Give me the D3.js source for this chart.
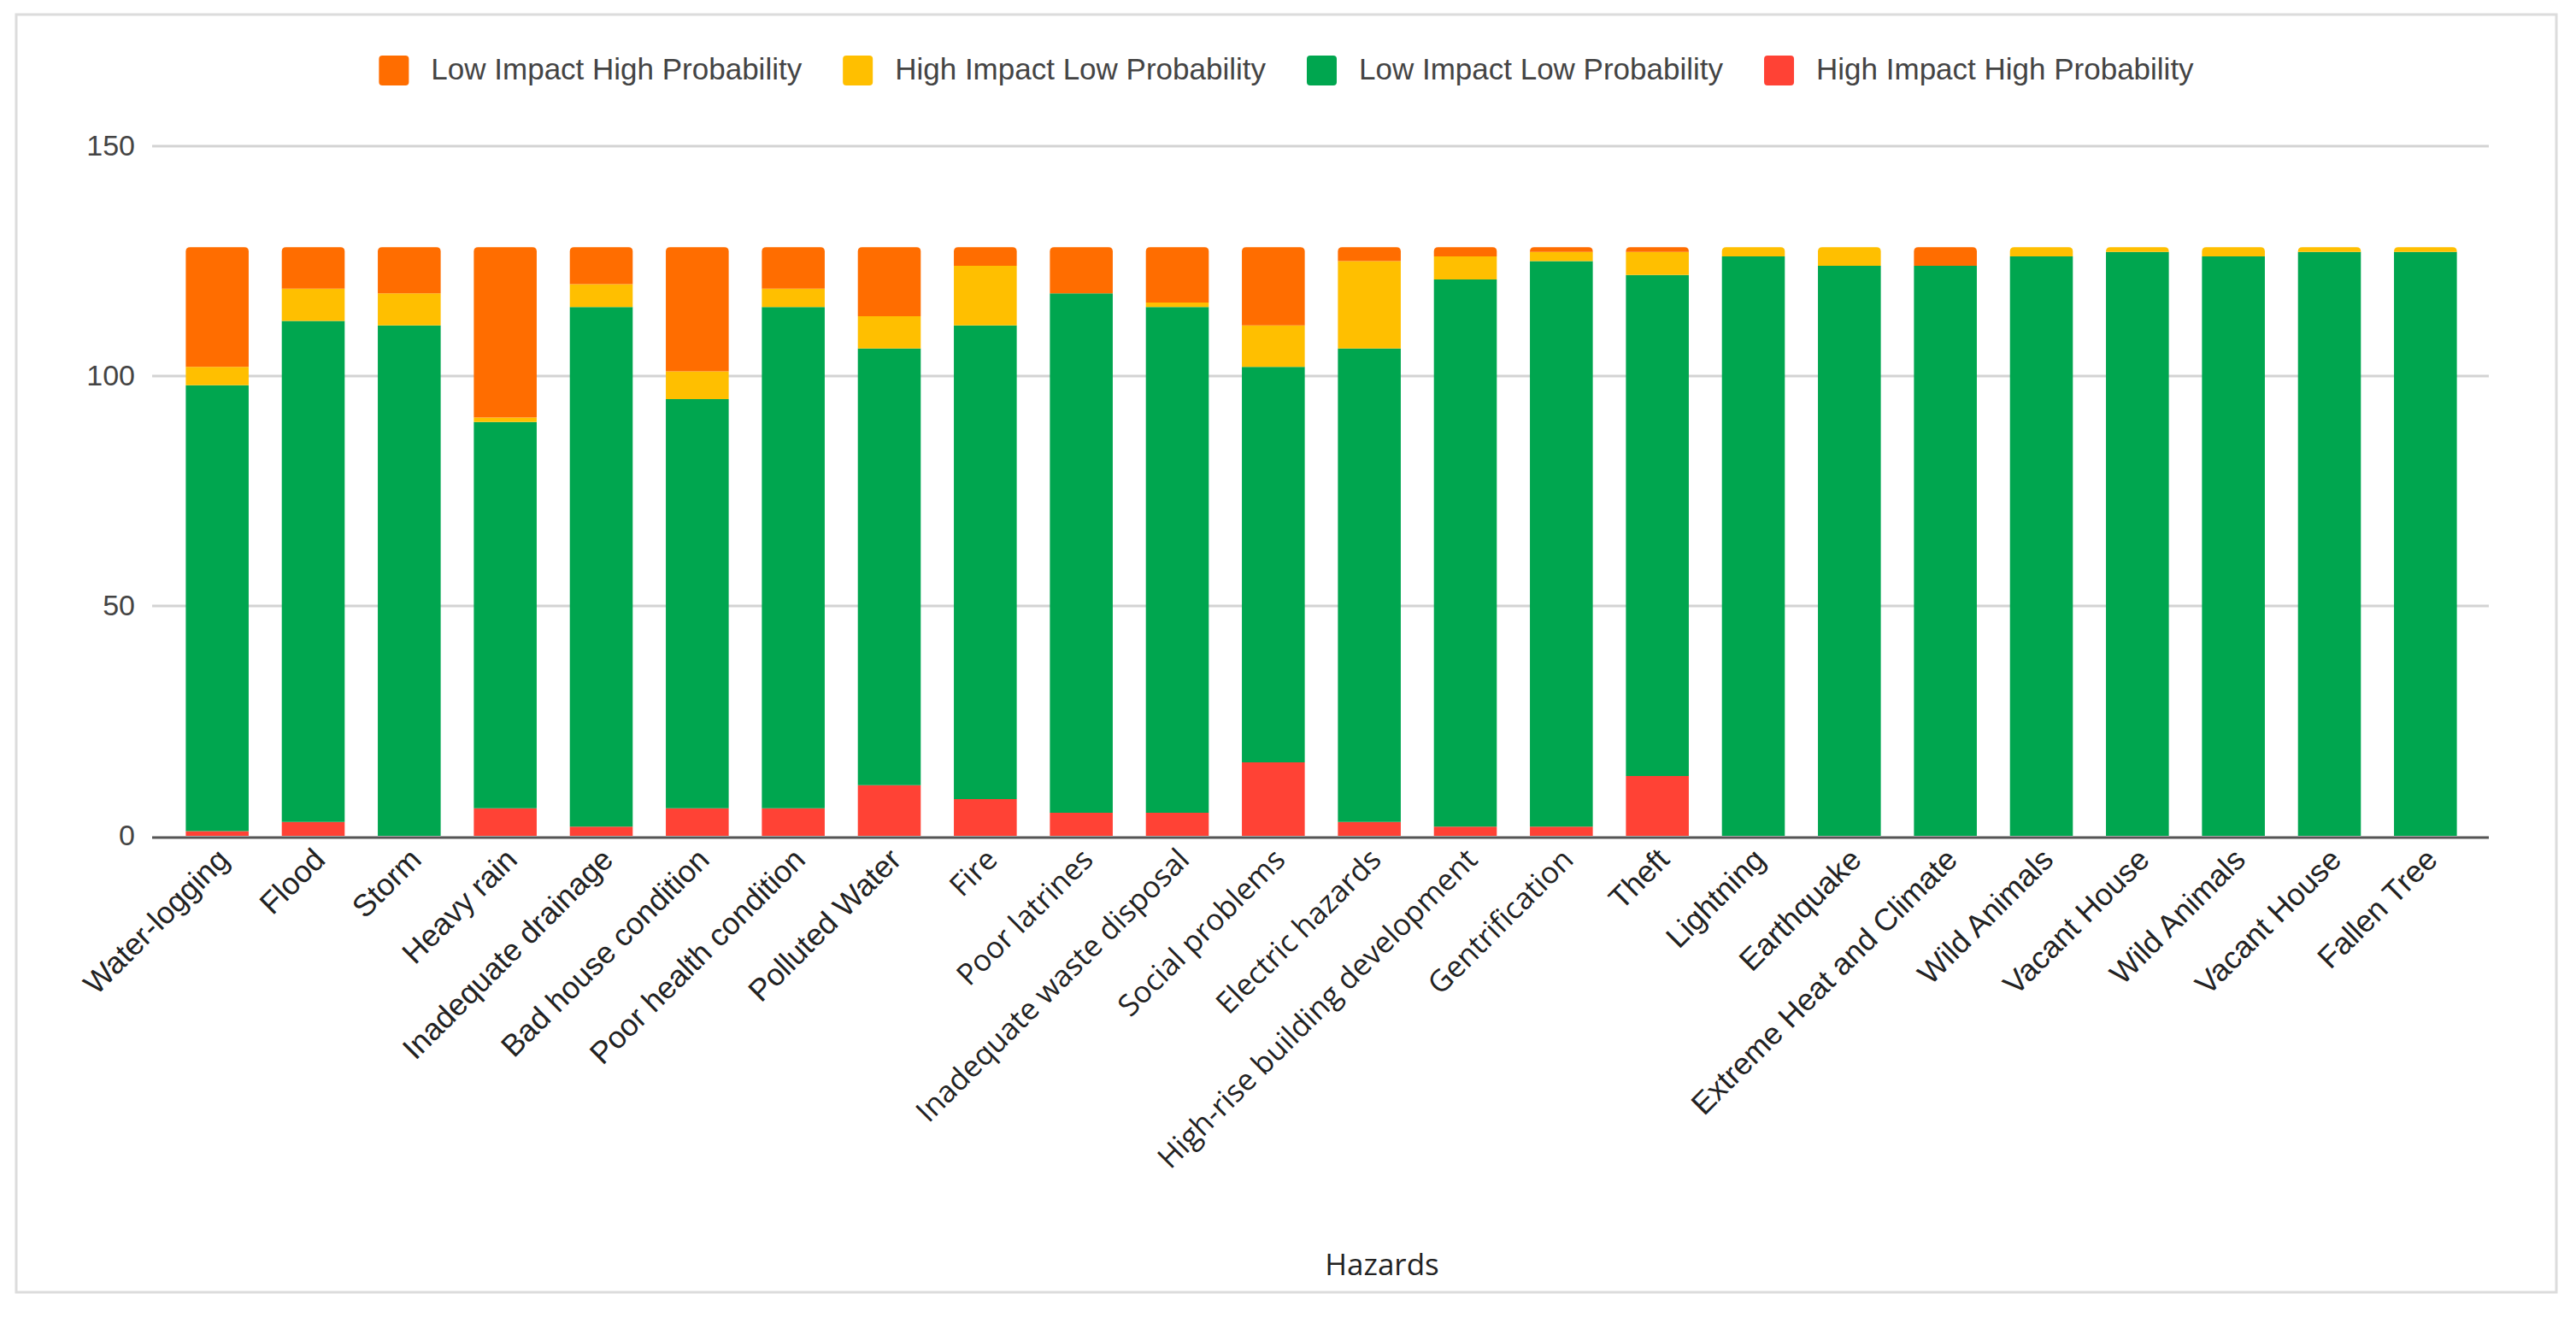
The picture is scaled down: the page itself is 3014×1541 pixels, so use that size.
<!DOCTYPE html>
<html>

<head>
    <meta charset="UTF-8">
    <title>Hazards by impact and probability</title>
    <style>
        body { margin: 0; background: white; }
        text { font-family: "Liberation Sans", Arial, sans-serif; }
    </style>
</head>

<body>
    <svg id="chart"></svg>
    <script src="https://d3js.org/d3.v7.min.js"></script>
    <script>
        const hazards = ["Water-logging", "Flood", "Storm", "Heavy rain", "Inadequate drainage",
            "Bad house condition", "Poor health condition", "Polluted Water", "Fire", "Poor latrines",
            "Inadequate waste disposal", "Social problems", "Electric hazards",
            "High-rise building development", "Gentrification", "Theft", "Lightning", "Earthquake",
            "Extreme Heat and Climate", "Wild Animals", "Vacant House", "Wild Animals", "Vacant House",
            "Fallen Tree"];

        // stacked bottom to top
        const highImpactHighProb = [1, 3, 0, 6, 2, 6, 6, 11, 8, 5, 5, 16, 3, 2, 2, 13, 0, 0, 0, 0, 0, 0, 0, 0];
        const lowImpactLowProb = [97, 109, 111, 84, 113, 89, 109, 95, 103, 113, 110, 86, 103, 119, 123, 109, 126, 124, 124, 126, 127, 126, 127, 127];
        const highImpactLowProb = [4, 7, 7, 1, 5, 6, 4, 7, 13, 0, 1, 9, 19, 5, 2, 5, 2, 4, 0, 2, 1, 2, 1, 1];
        const lowImpactHighProb = [26, 9, 10, 37, 8, 27, 9, 15, 4, 10, 12, 17, 3, 2, 1, 1, 0, 0, 4, 0, 0, 0, 0, 0];

        const seriesNames = ["High Impact High Probability", "Low Impact Low Probability",
            "High Impact Low Probability", "Low Impact High Probability"];
        const seriesColors = ["#ff4235", "#00a64f", "#ffbf00", "#ff6d00"];
        const legendOrder = [3, 2, 1, 0];
        const yTicks = [0, 50, 100, 150];

        const width = 3014, height = 1541;
        const plot = { left: 178, right: 2912, top: 171, bottom: 978 };

        const svg = d3.select("#chart")
            .attr("width", width)
            .attr("height", height);

        // outer frame
        svg.append("rect")
            .attr("x", 19).attr("y", 17)
            .attr("width", 2972).attr("height", 1495)
            .attr("fill", "white")
            .attr("stroke", "#dcdcdc")
            .attr("stroke-width", 3);

        const rows = hazards.map((h, i) => ({
            hazard: i,
            s0: highImpactHighProb[i],
            s1: lowImpactLowProb[i],
            s2: highImpactLowProb[i],
            s3: lowImpactHighProb[i]
        }));

        const stacked = d3.stack().keys(["s0", "s1", "s2", "s3"])(rows);

        const x = d3.scaleBand()
            .domain(d3.range(hazards.length))
            .range([198, 2894])
            .paddingInner(0.345)
            .paddingOuter(0.1725);

        const y = d3.scaleLinear()
            .domain([0, 150])
            .range([plot.bottom, plot.top]);

        // gridlines
        svg.append("g")
            .selectAll("line")
            .data(yTicks.filter(t => t > 0))
            .enter().append("line")
            .attr("x1", plot.left).attr("x2", plot.right)
            .attr("y1", d => y(d)).attr("y2", d => y(d))
            .attr("stroke", "#d3d3d3")
            .attr("stroke-width", 3);

        // y axis labels
        const yAxis = svg.append("g")
            .attr("transform", `translate(${plot.left - 20},0)`)
            .call(d3.axisLeft(y).tickValues(yTicks).tickSize(0).tickPadding(0));
        yAxis.select(".domain").remove();
        yAxis.selectAll("text")
            .attr("font-size", 34)
            .attr("fill", "#444")
            .attr("font-family", "'Liberation Sans', Arial, sans-serif");

        // topmost non-empty segment of each bar gets rounded corners
        const topKey = rows.map(r => [3, 2, 1, 0].find(k => r["s" + k] > 0));

        function roundedTop(x0, y0, w, h, r) {
            r = Math.min(r, h);
            return `M${x0},${y0 + h}V${y0 + r}Q${x0},${y0} ${x0 + r},${y0}` +
                `H${x0 + w - r}Q${x0 + w},${y0} ${x0 + w},${y0 + r}V${y0 + h}Z`;
        }

        stacked.forEach((layer, k) => {
            svg.append("g")
                .attr("fill", seriesColors[k])
                .selectAll("path")
                .data(layer.filter(d => d[1] > d[0]))
                .enter().append("path")
                .attr("d", d => {
                    const i = d.data.hazard;
                    const x0 = x(i), w = x.bandwidth();
                    const y0 = y(d[1]), h = y(d[0]) - y(d[1]);
                    return roundedTop(x0, y0, w, h, topKey[i] === k ? 5 : 0);
                });
        });

        // baseline
        svg.append("line")
            .attr("x1", plot.left).attr("x2", plot.right)
            .attr("y1", y(0) + 2).attr("y2", y(0) + 2)
            .attr("stroke", "#555")
            .attr("stroke-width", 3);

        // slanted category labels (a few were set in a wider face in the original)
        svg.append("g")
            .selectAll("text")
            .data(hazards)
            .enter().append("text")
            .attr("transform", (d, i) => `translate(${x(i) + x.bandwidth() / 2 + 16},1008) rotate(-45)`)
            .attr("text-anchor", "end")
            .attr("font-size", (d, i) => i >= 8 && i <= 14 ? 35 : 36)
            .style("font-family", (d, i) => i >= 8 && i <= 14 ? "'Open Sans', sans-serif" : null)
            .attr("fill", "#222")
            .text(d => d);

        svg.append("text")
            .attr("x", 1617).attr("y", 1492)
            .attr("text-anchor", "middle")
            .attr("font-size", 35)
            .attr("fill", "#222")
            .style("font-family", "'Open Sans', sans-serif")
            .text("Hazards");

        // legend
        const legend = svg.append("g");
        const items = legend.selectAll("g")
            .data(legendOrder)
            .enter().append("g");
        items.append("rect")
            .attr("y", 65)
            .attr("width", 35).attr("height", 35)
            .attr("rx", 4)
            .attr("fill", k => seriesColors[k]);
        items.append("text")
            .attr("x", 61).attr("y", 93)
            .attr("font-size", 35)
            .attr("fill", "#444")
            .text(k => seriesNames[k]);

        let offset = 0;
        const widths = [];
        items.each(function () {
            widths.push(61 + d3.select(this).select("text").node().getComputedTextLength());
        });
        const total = d3.sum(widths) + 48 * (widths.length - 1);
        let start = 1505 - total / 2;
        items.attr("transform", (k, i) => {
            const tx = start + offset;
            offset += widths[i] + 48;
            return `translate(${tx},0)`;
        });
    </script>
</body>

</html>
